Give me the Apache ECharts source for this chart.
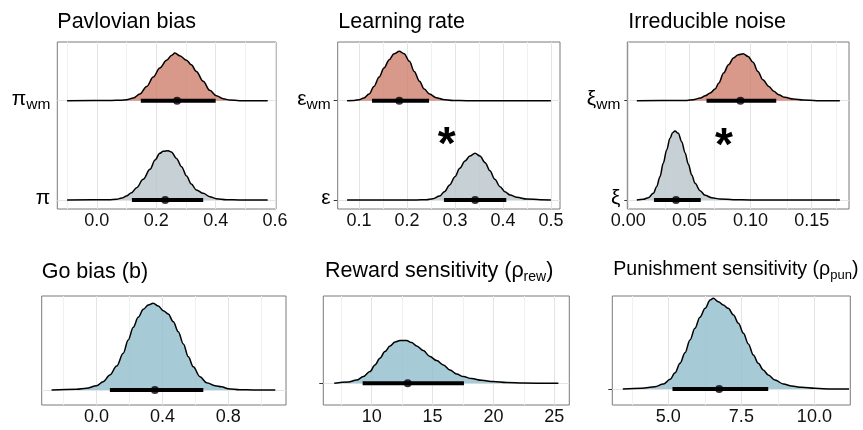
<!DOCTYPE html>
<html><head><meta charset="utf-8">
<script src="https://cdn.jsdelivr.net/npm/echarts@6/dist/echarts.min.js"></script>
<style>html,body{margin:0;padding:0;background:#fff}#c{width:863px;height:430px}</style>
</head><body><div id="c"></div>
<script>
const FONT = '"Liberation Sans", Arial, Helvetica, sans-serif';

// ---------------- data ----------------
// density curves: [x, relative density height]
const piWm = [[-0.1,0],[0.05,0.2],[0.08,0.5],[0.1,1.0],[0.123,2.7],[0.145,6.7],[0.168,14.4],[0.19,23.8],[0.212,32.9],[0.235,40.6],[0.251,45.6],[0.263,48.0],[0.279,45.3],[0.302,40.6],[0.318,36.2],[0.335,29.5],[0.358,19.5],[0.38,10.4],[0.402,5.0],[0.425,2.0],[0.447,0.7],[0.48,0],[0.575,0]];
const pi = [[-0.1,0],[0.04,0.2],[0.067,0.7],[0.084,2.0],[0.1,4.0],[0.117,7.4],[0.134,12.4],[0.156,20.8],[0.179,30.9],[0.196,40.3],[0.212,47.0],[0.223,49.0],[0.24,49.7],[0.251,48.3],[0.268,41.9],[0.285,33.6],[0.302,24.2],[0.318,16.1],[0.335,10.1],[0.358,6.7],[0.38,3.4],[0.402,1.3],[0.436,0.3],[0.48,0],[0.575,0]];
const epsWm = [[0.075,0],[0.09,0.3],[0.1,1.0],[0.11,2.7],[0.121,6.7],[0.131,14.4],[0.142,23.8],[0.152,32.9],[0.163,41.3],[0.173,47.3],[0.184,49.7],[0.194,47.3],[0.205,39.6],[0.215,29.5],[0.226,19.5],[0.236,11.7],[0.247,6.7],[0.261,3.0],[0.275,1.3],[0.296,0.3],[0.324,0],[0.5,0]];
const eps = [[0.075,0],[0.22,0],[0.24,0.3],[0.254,1.3],[0.268,4.0],[0.278,8.4],[0.289,15.1],[0.3,23.5],[0.31,31.9],[0.321,39.3],[0.331,44.3],[0.342,47.0],[0.352,44.3],[0.363,37.6],[0.373,29.5],[0.383,20.8],[0.394,13.4],[0.404,8.4],[0.415,5.0],[0.429,2.7],[0.45,1.0],[0.478,0.3],[0.5,0]];
const xiWm = [[0.007,0],[0.04,0.1],[0.048,0.3],[0.053,1.0],[0.059,2.7],[0.063,5.0],[0.067,7.7],[0.071,11.7],[0.074,17.8],[0.078,27.9],[0.082,36.2],[0.086,43.0],[0.09,46.3],[0.094,47.3],[0.098,44.6],[0.102,38.6],[0.106,29.5],[0.11,21.1],[0.115,14.4],[0.119,9.4],[0.123,6.0],[0.128,3.4],[0.135,1.7],[0.143,0.7],[0.154,0],[0.173,0]];
const xi = [[0.007,0],[0.0123,0.7],[0.0164,2.3],[0.0205,6.7],[0.0232,13.4],[0.0259,23.5],[0.0286,36.9],[0.0314,50.3],[0.0341,62.1],[0.0363,67.8],[0.0382,69.5],[0.0409,67.1],[0.0437,58.7],[0.0464,47.7],[0.0491,36.2],[0.0519,25.2],[0.0546,16.8],[0.0587,9.4],[0.0628,4.7],[0.0682,2.3],[0.075,1.0],[0.0859,0.3],[0.0996,0],[0.173,0]];
const goBias = [[-0.273,0],[-0.122,0.7],[-0.061,1.7],[0,4.3],[0.04,8.3],[0.081,15],[0.122,24],[0.162,36.7],[0.192,50],[0.223,62.7],[0.253,72.7],[0.284,80.7],[0.314,85],[0.344,86.7],[0.375,84],[0.405,79.3],[0.435,76],[0.466,68.3],[0.496,58.3],[0.527,46],[0.557,33.3],[0.587,23.3],[0.628,13.3],[0.668,7.3],[0.719,4.3],[0.759,3.3],[0.8,1.3],[0.871,0.3],[0.952,0],[1.085,0]];
const rhoRew = [[6.93,0],[8.08,1.3],[8.77,3.3],[9.32,6.7],[9.86,11.7],[10.27,18.3],[10.68,25],[11.09,31.7],[11.51,37.3],[11.92,41.3],[12.33,42.7],[12.87,42.7],[13.28,40.7],[13.7,37.3],[14.24,32.7],[14.79,26.7],[15.34,22.7],[15.89,18.3],[16.43,13.3],[16.98,9.3],[17.53,6.7],[18.21,4.7],[19.03,3],[19.99,1.7],[21.09,0.7],[22.46,0.2],[25.33,0]];
const rhoPun = [[3.44,0],[4.09,0.7],[4.54,2.3],[4.83,5],[5.06,9.7],[5.23,16.3],[5.4,25.7],[5.57,36.3],[5.74,49],[5.91,60.7],[6.08,71.7],[6.26,80.7],[6.43,89],[6.54,90.7],[6.71,87.3],[6.88,84],[7.05,80.7],[7.23,74],[7.4,65.7],[7.57,55.7],[7.74,45],[7.91,34],[8.08,25.7],[8.25,19],[8.42,14],[8.65,9],[8.94,5],[9.22,3],[9.57,1.7],[10.02,0.7],[10.59,0],[11.19,0]];

// credible intervals: [low, median, high]
const piCI = [0.118, 0.23, 0.358];
const piWmCI = [0.148, 0.27, 0.4];
const epsCI = [0.277, 0.342, 0.407];
const epsWmCI = [0.127, 0.184, 0.246];
const xiCI = [0.021, 0.039, 0.0593];
const xiWmCI = [0.064, 0.0917, 0.121];
const goCI = [0.081, 0.354, 0.648];
const rewCI = [9.26, 12.96, 17.58];
const punCI = [5.14, 6.74, 8.42];

// significance markers: [x, height above lower ridge]
const sigLearning = [0.283, 63.7];
const sigNoise = [0.0783, 63.4];

// ridge categories (main symbol, subscript)
const catPav = [['π',''], ['π','wm']];
const catLr = [['ε',''], ['ε','wm']];
const catNoise = [['ξ',''], ['ξ','wm']];

// titles: [main, subscript, closing]
const titles = [
  ['Pavlovian bias'], ['Learning rate'], ['Irreducible noise'],
  ['Go bias (b)'], ['Reward sensitivity (ρ','rew',')'], ['Punishment sensitivity (ρ','pun',')']
];

// axis ticks
const t1 = [0, 0.2, 0.4, 0.6], l1 = ['0.0','0.2','0.4','0.6'];
const t2 = [0.1, 0.2, 0.3, 0.4, 0.5], l2 = ['0.1','0.2','0.3','0.4','0.5'];
const t3 = [0, 0.05, 0.1, 0.15], l3 = ['0.00','0.05','0.10','0.15'];
const t4 = [0, 0.4, 0.8], l4 = ['0.0','0.4','0.8'];
const t5 = [10, 15, 20, 25], l5 = ['10','15','20','25'];
const t6 = [5, 7.5, 10], l6 = ['5.0','7.5','10.0'];

// ---------------- styles / layout ----------------
const RED = 'rgba(206,126,109,0.8)';
const GRAY = 'rgba(185,196,201,0.8)';
const BLUE = 'rgba(144,190,204,0.8)';

const panels = [
  {title:titles[0], tx:57.3, ty:10.8, tfs:21.5, grid:{left:57.3,top:42,width:218.7,height:167}, x:[-0.133,0.603], y:[-9.06,159.1], ticks:t1, labels:l1,
   ridges:[{lab:catPav[0], d:pi, ci:piCI, base:0, fill:GRAY},{lab:catPav[1], d:piWm, ci:piWmCI, base:100, fill:RED}], lm:7},
  {title:titles[1], tx:338.3, ty:10.8, tfs:21.5, grid:{left:337.7,top:42,width:222.3,height:167}, x:[0.0555,0.519], y:[-9.06,159.1], ticks:t2, labels:l2,
   ridges:[{lab:catLr[0], d:eps, ci:epsCI, base:0, fill:GRAY},{lab:catLr[1], d:epsWm, ci:epsWmCI, base:100, fill:RED}], sig:sigLearning, lm:7},
  {title:titles[2], tx:628.3, ty:10.8, tfs:21.5, grid:{left:627.3,top:42,width:221.7,height:167}, x:[-0.0008,0.1805], y:[-9.06,159.1], ticks:t3, labels:l3,
   ridges:[{lab:catNoise[0], d:xi, ci:xiCI, base:0, fill:GRAY},{lab:catNoise[1], d:xiWm, ci:xiWmCI, base:100, fill:RED}], sig:sigNoise, lm:7},
  {title:titles[3], tx:41.7, ty:260.8, tfs:21.5, grid:{left:41.7,top:296,width:244.3,height:109}, x:[-0.333,1.15], y:[-15,94], ticks:t4, labels:l4,
   ridges:[{lab:null, d:goBias, ci:goCI, base:0, fill:BLUE}], lm:7},
  {title:titles[4], tx:325, ty:260.3, tfs:21.5, grid:{left:323.3,top:296,width:246,height:109}, x:[6.03,26.23], y:[-21.7,87.3], ticks:t5, labels:l5,
   ridges:[{lab:null, d:rhoRew, ci:rewCI, base:0, fill:BLUE}], lm:7},
  {title:titles[5], tx:613.3, ty:259.6, tfs:19.6, grid:{left:612.3,top:296,width:238,height:109}, x:[3.08,11.23], y:[-16,93], ticks:t6, labels:l6,
   ridges:[{lab:null, d:rhoPun, ci:punCI, base:0, fill:BLUE}], lm:7}
];

const grid = [], xAxis = [], yAxis = [], series = [], title = [];

function near(a, b) { return Math.abs(a - b) < 1e-9; }

panels.forEach((p, i) => {
  const a = {fontSize:p.tfs, fontWeight:'normal', fontFamily:FONT, color:'#000', verticalAlign:'bottom', padding:[0,0,2,0]};
  const s = {fontSize:Math.round(p.tfs*0.66), fontWeight:'normal', fontFamily:FONT, color:'#000', verticalAlign:'bottom'};
  let txt = '{a|' + p.title[0] + '}';
  if (p.title.length > 1) txt += '{s|' + p.title[1] + '}{a|' + p.title[2] + '}';
  title.push({text:txt, left:p.tx, top:p.ty, padding:0, textStyle:{fontWeight:'normal', rich:{a, s}}});

  grid.push(Object.assign({show:true, borderColor:'#7a7a7a', borderWidth:1, containLabel:false}, p.grid));

  xAxis.push({gridIndex:i, type:'value', min:p.x[0], max:p.x[1],
    axisLine:{show:false}, splitLine:{show:false},
    axisTick:{show:true, customValues:p.ticks, length:4, lineStyle:{color:'#333', width:1}},
    axisLabel:{customValues:p.ticks, margin:3, fontSize:18, fontFamily:FONT, color:'#111',
      formatter:v => { const k = p.ticks.findIndex(t => near(t, v)); return k >= 0 ? p.labels[k] : ''; }}});

  const bases = p.ridges.map(r => r.base);
  yAxis.push({gridIndex:i, type:'value', min:p.y[0], max:p.y[1],
    axisLine:{show:false}, splitLine:{show:false},
    axisTick:{show:true, customValues:bases, length:4, lineStyle:{color:'#333', width:1}},
    axisLabel:{customValues:bases, margin:p.lm,
      formatter:v => {
        const r = p.ridges.find(r => near(r.base, v));
        if (!r || !r.lab) return '';
        return r.lab[1] ? '{m|' + r.lab[0] + '}{s|' + r.lab[1] + '}' : '{m|' + r.lab[0] + '}';
      },
      rich:{
        m:{fontSize:21, fontFamily:FONT, color:'#000', verticalAlign:'bottom', padding:[0,0,3,0]},
        s:{fontSize:15.5, fontFamily:FONT, color:'#000', verticalAlign:'bottom'}
      }}});

  const half = (p.ticks[1] - p.ticks[0]) / 2;
  const lines = [];
  for (let v = Math.ceil(p.x[0] / half - 1e-9) * half; v <= p.x[1] + 1e-9; v += half) {
    const vv = Math.round(v * 1e6) / 1e6;
    const major = p.ticks.some(t => near(t, vv)) || Math.abs(Math.round(vv / (2*half)) * 2*half - vv) < 1e-6;
    lines.push({xAxis:vv, lineStyle:{color: major ? '#e4e4e4' : '#f0f0f0', width:1, type:'solid'}});
  }
  bases.forEach(b => lines.push({yAxis:b, lineStyle:{color:'#e4e4e4', width:1, type:'solid'}}));
  series.push({type:'line', xAxisIndex:i, yAxisIndex:i, data:[], silent:true, z:1,
    markLine:{silent:true, z:1, symbol:'none', animation:false, label:{show:false}, data:lines}});

  p.ridges.forEach(r => {
    series.push({type:'line', xAxisIndex:i, yAxisIndex:i, silent:true, z:3,
      data:r.d.map(([x, h]) => [x, r.base + h]),
      smooth:0.35, smoothMonotone:'x', showSymbol:false, symbol:'none',
      lineStyle:{color:'#000', width:1.5},
      areaStyle:{color:r.fill, opacity:1, origin:r.base}});
    series.push({type:'line', xAxisIndex:i, yAxisIndex:i, silent:true, z:4,
      data:[[r.ci[0], r.base], [r.ci[2], r.base]], symbol:'none', showSymbol:false,
      lineStyle:{color:'#000', width:4, cap:'butt'}});
    series.push({type:'scatter', xAxisIndex:i, yAxisIndex:i, silent:true, z:5,
      data:[[r.ci[1], r.base]], symbol:'circle', symbolSize:8, itemStyle:{color:'#000'}});
  });

  if (p.sig) {
    series.push({type:'scatter', xAxisIndex:i, yAxisIndex:i, silent:true, z:6,
      data:[p.sig], symbolSize:2, itemStyle:{color:'rgba(0,0,0,0)'},
      label:{show:true, position:'inside', formatter:'*', fontSize:46, fontWeight:'bold', fontFamily:FONT, color:'#000', opacity:1, offset:[0, 10]}});
  }
});

const chart = echarts.init(document.getElementById('c'), null, {renderer:'canvas'});
chart.setOption({animation:false, backgroundColor:'#fff', title, grid, xAxis, yAxis, series});
</script>
</body></html>
